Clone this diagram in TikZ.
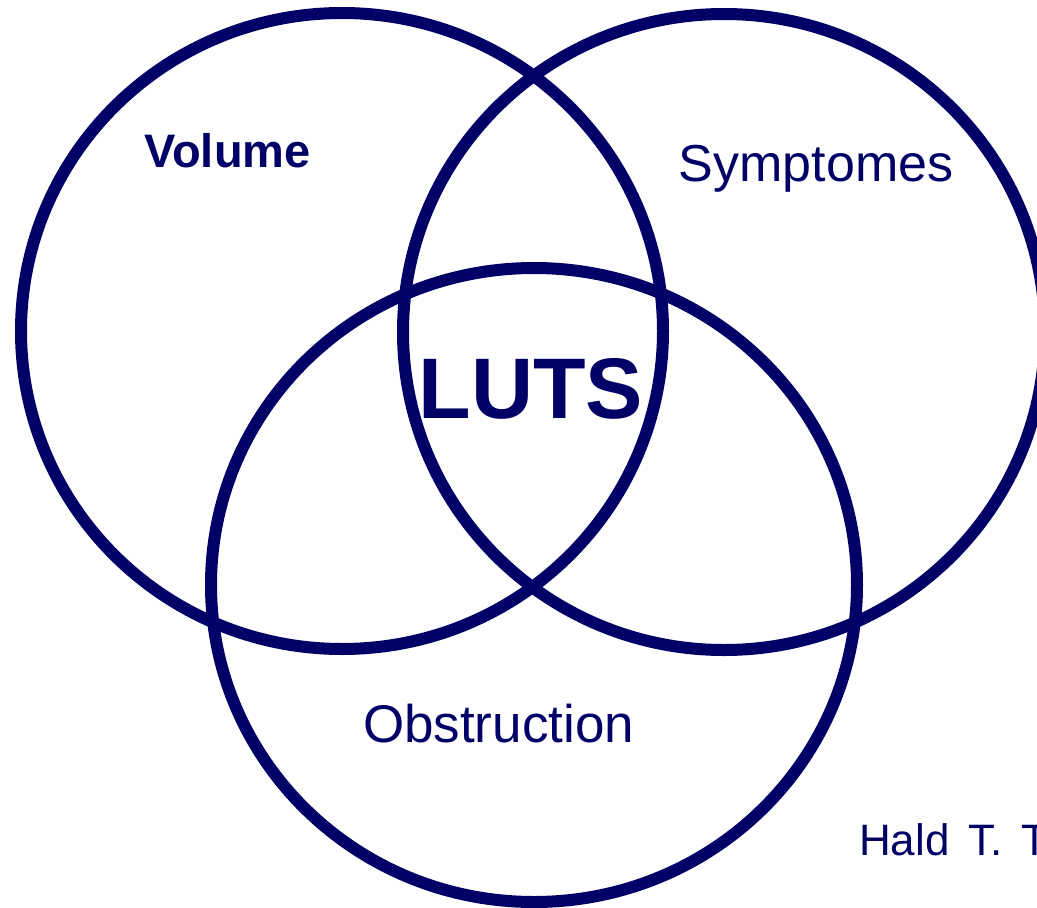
\documentclass[tikz,border=0pt]{standalone}
\usepackage{fontspec}
\setmainfont{Liberation Sans}
\definecolor{navy}{RGB}{0,0,102}
\begin{document}
\begin{tikzpicture}[x=1pt,y=-1pt,
  ring/.style={draw=navy,line width=12pt},
  lbl/.style={text=navy,inner sep=0pt,anchor=base}]
\useasboundingbox (0,0) rectangle (1037,908);
\clip (0,0) rectangle (1037,908);
\draw[ring] (342,331) ellipse [x radius=321pt, y radius=318pt];
\draw[ring] (724,332) ellipse [x radius=321pt, y radius=318pt];
\draw[ring] (534,585) ellipse [x radius=323pt, y radius=317pt];
\node[lbl,font=\fontsize{47}{47}\selectfont\bfseries] (vol) at (227.5,167) {Volume};
\node[lbl,font=\fontsize{52}{52}\selectfont] (sym) at (816,181) {Symptomes};
\node[lbl,font=\fontsize{86}{86}\selectfont\bfseries] (luts) at (531,418) {LUTS};
\node[lbl,font=\fontsize{53}{53}\selectfont] (obs) at (498.5,742) {Obstruction};
\node[lbl,anchor=base west,font=\fontsize{44}{44}\selectfont] (hald) at (859,855) {Hald\hspace{19pt}T.\hspace{19pt}T};
\end{tikzpicture}
\end{document}
